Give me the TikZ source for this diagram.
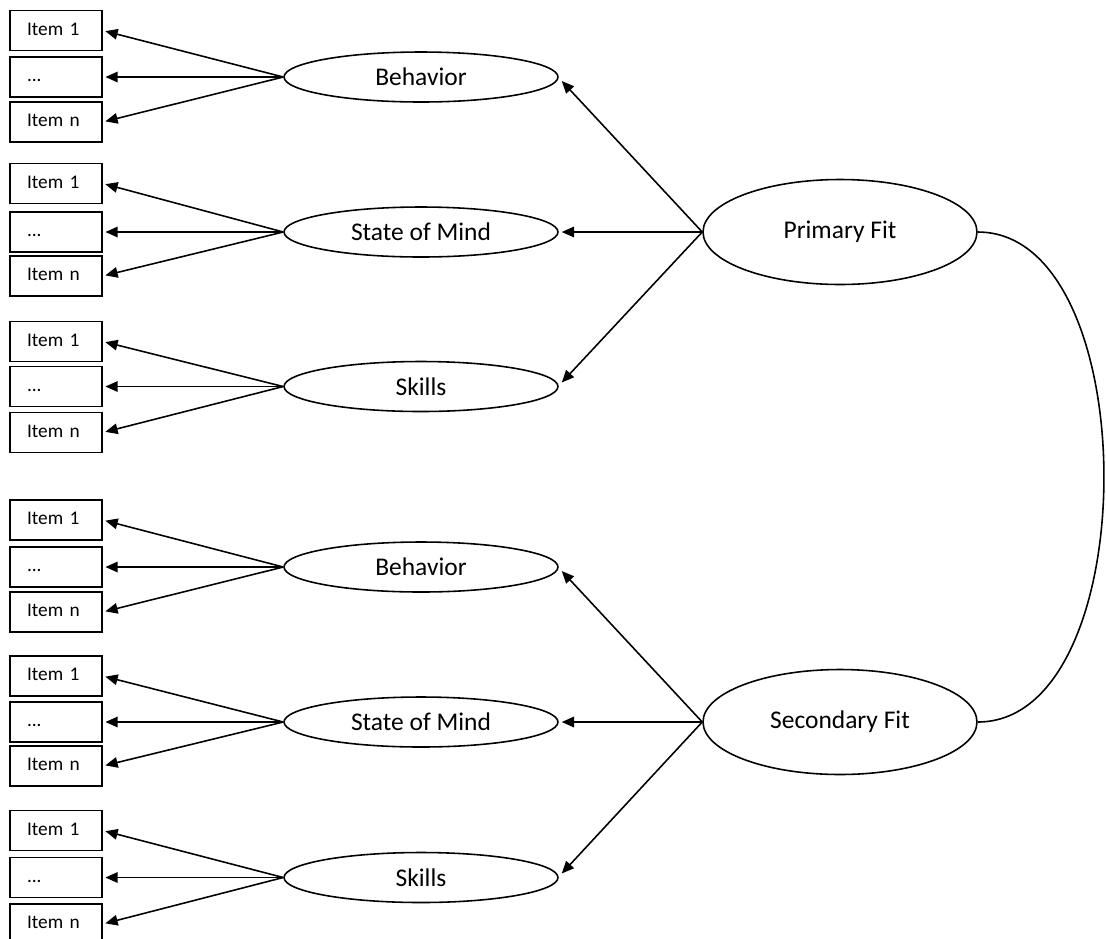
\documentclass[tikz,border=0pt]{standalone}
\usepackage{fontspec}
\setmainfont{Carlito}
\usetikzlibrary{shapes.geometric,arrows.meta,calc}
\begin{document}
\begin{tikzpicture}[x=0.02cm,y=-0.02cm,
  item/.style={draw, line width=0.9pt, minimum height=0.8cm, text width=1.16cm,
    inner xsep=0.34cm, inner ysep=0pt, align=left, font=\fontsize{11}{13}\selectfont,
    execute at begin node={\vphantom{Ig}}},
  latent/.style={draw, ellipse, line width=0.9pt, minimum width=5.48cm, minimum height=1.0cm,
    inner sep=0pt, font=\fontsize{14.5}{17}\selectfont},
  fitnode/.style={latent, minimum height=2.1cm},
  arr/.style={-{Triangle[length=7pt,width=6pt]}, line width=0.9pt, shorten >=1.5pt},
  farr/.style={-{Triangle[length=7pt,width=6pt]}, line width=0.9pt}]
\useasboundingbox (0,0) rectangle (1106,938);
\clip (0,0) rectangle (1106,938);
\foreach \n/\ya/\yb/\yc/\lab in {
  1/30.5/77/122/Behavior,
  2/183.5/232/276/State of Mind,
  3/341.5/386.5/432.5/Skills,
  4/520/567/612/Behavior,
  5/676/722/766/State of Mind,
  6/830.5/877.5/924/Skills}{
  \node[item] (i\n a) at (56,\ya) {Item 1};
  \node[item] (i\n b) at (56,\yb) {...};
  \node[item] (i\n c) at (56,\yc) {Item n};
  \node[latent] (l\n) at (421,\yb) {\lab};
  \draw[arr] (l\n.west) -- (i\n a.east);
  \draw[arr] (l\n.west) -- (i\n b.east);
  \draw[arr] (l\n.west) -- (i\n c.east);
}
\node[fitnode] (PF) at (840,232) {Primary Fit};
\node[fitnode] (SF) at (840,722) {Secondary Fit};
\draw[farr] (PF.west) -- ($(l1.east)+(3,4)$);
\draw[farr] (PF.west) -- ($(l2.east)+(3,0)$);
\draw[farr] (PF.west) -- ($(l3.east)+(3,-4)$);
\draw[farr] (SF.west) -- ($(l4.east)+(3,4)$);
\draw[farr] (SF.west) -- ($(l5.east)+(3,0)$);
\draw[farr] (SF.west) -- ($(l6.east)+(3,-4)$);
\draw[line width=0.9pt] (PF.east) .. controls (1146,232) and (1146,722) .. (SF.east);
\end{tikzpicture}
\end{document}
